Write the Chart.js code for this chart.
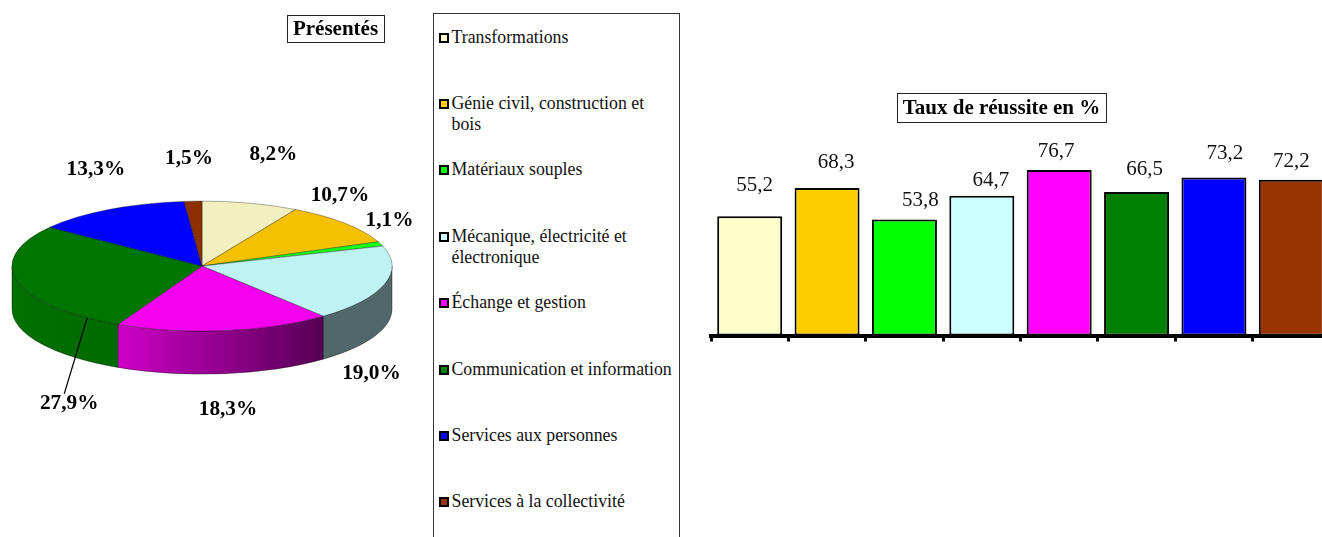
<!DOCTYPE html>
<html lang="fr">
<head>
<meta charset="utf-8">
<title>Présentés et taux de réussite</title>
<script src="https://cdn.jsdelivr.net/npm/chart.js@4"></script>
<style>
html,body{margin:0;padding:0;background:#fff;width:1322px;height:537px;overflow:hidden;font-family:"Liberation Serif","Times New Roman",serif}
canvas{position:absolute;display:block}
#pie{left:0;top:0}
#bars{left:700px;top:0}
#legend{position:absolute;left:432.5px;top:13px;width:245.5px;height:600px;border:1px solid #333;box-sizing:content-box}
.item{position:absolute;left:18px;width:226px;font-size:17.8px;line-height:21px;color:#111}
.item i{position:absolute;left:-13px;top:6px;width:6px;height:6px;border:2px solid #000;display:block}
</style>
</head>
<body>
<canvas id="pie" width="430" height="490"></canvas>
<div id="legend"></div>
<canvas id="bars" width="630" height="345"></canvas>
<script>
const categories = ["Transformations","Génie civil, construction et bois","Matériaux souples","Mécanique, électricité et électronique","Échange et gestion","Communication et information","Services aux personnes","Services à la collectivité"];
const presentes = [8.2,10.7,1.1,19.0,18.3,27.9,13.3,1.5];
const reussite = [55.2,68.3,53.8,64.7,76.7,66.5,73.2,72.2];
const barColors = ["#FFFFCC","#FFCC00","#00FF00","#CCFFFF","#FF00FF","#008000","#0000FF","#993300"];
const pieColors = ["#F3F0BF","#F4C000","#1AFF1A","#BFF2F2","#F500EE","#007500","#0000FF","#8B3000"];
const wallLeft = ["#8A8870","#8A6C00","#0E8A0E","#50686A","#CE00C6","#007000","#000090","#4E1B00"];
const wallRight = ["#8A8870","#8A6C00","#0E8A0E","#50686A","#560054","#006A00","#000090","#4E1B00"];
const pieLabelOffsets = [[23,-48.5],[-5,-27.5],[9,-23.5],[-13,89.5],[4,78.5],[52,122.5],[-13,-39.5],[-4,-42.5]];
const barLabelOffsets = [[5,-31],[9,-26],[16,-19],[9,-15],[-3,-18],[8,-23],[11,-24],[0,-18]];
const fmt = v => v.toFixed(1).replace(".", ",");
const TILT = 65/190, DEPTH = 43;
const boldFont = {family:'"Liberation Serif"',size:21,weight:'bold'};

const movedTitle = {
  id:'movedTitle',
  afterLayout(chart,_,o){const t=chart.titleBlock;t.left=o.cx-200;t.right=o.cx+200;},
  beforeDraw(chart,_,o){
    const c=chart.ctx;c.save();c.strokeStyle='#222';c.lineWidth=1;
    c.strokeRect(o.box[0]+.5,o.box[1]+.5,o.box[2],o.box[3]);c.restore();
  }
};

const pie3d = {
  id:'pie3d',
  beforeDatasetsDraw(chart){
    const c=chart.ctx,arcs=chart.getDatasetMeta(0).data;
    c.save();
    arcs.forEach((a,i)=>{
      const s=Math.max(a.startAngle,0),e=Math.min(a.endAngle,Math.PI);
      if(e<=s)return;
      const rx=a.outerRadius,ry=rx*TILT;
      const x0=a.x+rx*Math.cos(e),x1=a.x+rx*Math.cos(s);
      const g=c.createLinearGradient(x0,0,x1,0);
      g.addColorStop(0,wallLeft[i]);g.addColorStop(1,wallRight[i]);
      c.beginPath();
      c.ellipse(a.x,a.y,rx,ry,0,s,e);
      c.ellipse(a.x,a.y+DEPTH,rx,ry,0,e,s,true);
      c.closePath();
      c.fillStyle=g;c.fill();
      c.strokeStyle='rgba(0,0,0,.55)';c.lineWidth=.7;c.stroke();
    });
    c.restore();
    const a=arcs[0];
    c.save();
    c.translate(a.x,a.y);c.scale(1,TILT);c.translate(-a.x,-a.y);
  },
  afterDatasetsDraw(chart){
    const c=chart.ctx,arcs=chart.getDatasetMeta(0).data;
    c.restore();
    c.save();
    c.font='bold 21.3px "Liberation Serif"';c.fillStyle='#000';c.textAlign='center';c.textBaseline='middle';
    arcs.forEach((a,i)=>{
      const m=(a.startAngle+a.endAngle)/2,rx=a.outerRadius;
      const x=a.x+rx*Math.cos(m)+pieLabelOffsets[i][0];
      const y=a.y+rx*TILT*Math.sin(m)+pieLabelOffsets[i][1];
      c.fillText(fmt(presentes[i])+'%',x,y);
      if(i===5){
        c.strokeStyle='#000';c.lineWidth=1.2;c.beginPath();
        c.moveTo(x-5,y-10);c.lineTo(x+18,y-86);c.stroke();
      }
    });
    c.restore();
  }
};

const barValues = {
  id:'barValues',
  afterDatasetsDraw(chart){
    const c=chart.ctx;c.save();
    c.font='21px "Liberation Serif"';c.fillStyle='#111';c.textAlign='center';c.textBaseline='middle';
    chart.getDatasetMeta(0).data.forEach((b,i)=>{
      c.fillText(fmt(reussite[i]),b.x+barLabelOffsets[i][0],b.y+barLabelOffsets[i][1]);
    });
    c.restore();
  }
};

new Chart(document.getElementById('pie'),{
  type:'pie',
  data:{labels:categories,datasets:[{data:presentes,backgroundColor:pieColors,borderColor:'rgba(0,0,0,.6)',borderWidth:.8,clip:false}]},
  plugins:[movedTitle,pie3d],
  options:{
    responsive:false,animation:false,radius:190,
    layout:{padding:{right:26}},
    plugins:{
      legend:{display:false},tooltip:{enabled:false},
      title:{display:true,text:'Présentés',color:'#000',font:boldFont,padding:{top:17,bottom:0}},
      movedTitle:{cx:335.5,box:[287,15,97,27]}
    }
  }
});

new Chart(document.getElementById('bars'),{
  type:'bar',
  data:{labels:categories,datasets:[{data:reussite,backgroundColor:barColors,borderColor:'#000',borderWidth:2,borderSkipped:false,barPercentage:.84,categoryPercentage:1}]},
  plugins:[movedTitle,barValues],
  options:{
    responsive:false,animation:false,
    layout:{padding:{left:11,bottom:3.5}},
    scales:{
      x:{z:1,ticks:{display:false},grid:{offset:true,drawOnChartArea:false,drawTicks:true,tickLength:6,tickWidth:3,tickColor:'#000'},border:{display:true,color:'#000',width:4}},
      y:{display:false,min:0,max:99.3}
    },
    plugins:{
      legend:{display:false},tooltip:{enabled:false},
      title:{display:true,text:'Taux de réussite en %',color:'#000',font:boldFont,padding:{top:96,bottom:0}},
      movedTitle:{cx:301.5,box:[197,93,209,29]}
    }
  }
});

const legend=document.getElementById('legend');
categories.forEach((name,i)=>{
  const d=document.createElement('div');d.className='item';
  d.style.top=(12.5+66.4*i)+'px';
  const m=document.createElement('i');m.style.background=barColors[i];d.appendChild(m);
  d.appendChild(document.createTextNode(name));
  legend.appendChild(d);
});
</script>
</body>
</html>
